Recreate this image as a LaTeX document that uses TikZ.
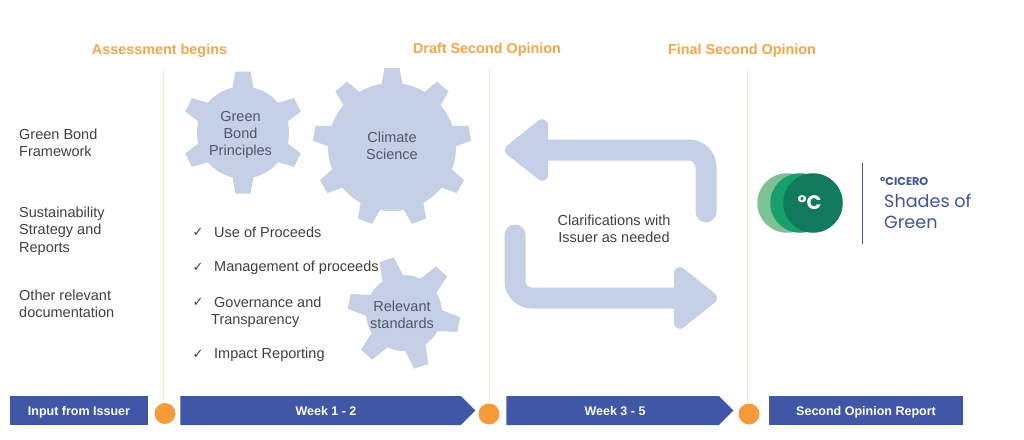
\documentclass[tikz,border=0pt]{standalone}
\usepackage{fontspec}
\setmainfont{Liberation Sans}
\newfontfamily\tickfont{DejaVu Sans}
\newfontfamily\logofont{Poppins}
\usetikzlibrary{arrows.meta,shapes.symbols}

\definecolor{gearblue}{HTML}{C5CFE6}
\definecolor{barblue}{HTML}{3F57A6}
\definecolor{dotorange}{HTML}{F79A3A}
\definecolor{headorange}{HTML}{F5A54A}
\definecolor{bodygray}{HTML}{404040}
\definecolor{geartext}{HTML}{50566A}
\definecolor{guideline}{HTML}{F3E6D2}
\definecolor{logolight}{HTML}{7DC195}
\definecolor{logomid}{HTML}{17A06C}
\definecolor{logodark}{HTML}{127A5C}
\definecolor{logoblue}{HTML}{43549C}

% center x, center y, body radius, tip radius, tooth angles
\newcommand{\gearshape}[5]{
	\fill[gearblue] (#1,#2) circle (#3);
	\foreach \a in {#5}
		\fill[gearblue,shift={(#1,#2)},rotate=\a] (#3-4,-11) -- (#4,-7.5) -- (#4,7.5) -- (#3-4,11) -- cycle;
}

\tikzset{
	headline/.style={text=headorange,font=\fontsize{14.4}{17}\selectfont\bfseries,inner sep=0},
	bodytext/.style={text=bodygray,font=\fontsize{14.5}{17.3}\selectfont,align=left,anchor=west,inner sep=0},
	gearlabel/.style={text=geartext,font=\fontsize{14.5}{17.3}\selectfont,align=center,inner sep=0},
	tick/.style={text=bodygray,font=\fontsize{13}{13}\tickfont,inner sep=0},
	barbox/.style={fill=barblue,text=white,font=\fontsize{12.5}{15}\selectfont\bfseries,minimum height=29pt,inner sep=0,text height=9pt,text depth=0pt},
	barsignal/.style={barbox,shape=signal,signal to=east,signal from=nowhere,signal pointer angle=90},
	dot/.style={circle,fill=dotorange,minimum size=21pt,inner sep=0},
	guide/.style={guideline,line width=0.8pt},
	loopline/.style={gearblue,line width=21pt,rounded corners=17pt,line cap=round,-{Triangle[length=47pt,width=71pt,round]}},
}

\begin{document}
\begin{tikzpicture}[x=1pt,y=-1pt]
	\useasboundingbox (0,0) rectangle (1024,439);

	% timeline
	\node[dot] (dotA) at (165,413.5) {};
	\node[dot] (dotB) at (489,414) {};
	\node[dot] (dotC) at (749,414) {};
	\coordinate (topA) at (163,68);
	\coordinate (topB) at (489,68);
	\coordinate (topC) at (747,68);
	\draw[guide] (topA) -- (topA |- dotA.north);
	\draw[guide] (topB) -- (dotB);
	\draw[guide] (topC) -- (topC |- dotC.north);
	\node[barbox,minimum width=138pt] (input) at (79,410.5) {Input from Issuer};
	\node[barsignal,minimum width=295pt] (weekA) at (320.5,410.5) {\hspace*{11pt}Week 1 - 2};
	\node[barsignal,minimum width=227pt] (weekB) at (612.5,410.5) {\hspace*{5pt}Week 3 - 5};
	\node[barbox,minimum width=194pt] (report) at (866,410.5) {Second Opinion Report};

	\node[headline] (begins) at (159.5,50.5) {Assessment begins};
	\node[headline] (draft) at (487,49.5) {Draft Second Opinion};
	\node[headline] (final) at (742,50.5) {Final Second Opinion};

	% inputs on the left
	\node[bodytext] (framework) at (19,143) {Green Bond\\Framework};
	\node[bodytext] (strategy) at (19,231) {Sustainability\\Strategy and\\Reports};
	\node[bodytext] (other) at (19,304) {Other relevant\\documentation};

	% gears
	\gearshape{243}{132.5}{46}{61}{90,27,-27,-90,-153,153}
	\gearshape{392}{147}{64}{79}{90,50,10,-30,-70,-110,-150,170,130}
	\gearshape{404}{313}{38}{56}{108,48,-12,-72,-132,168}
	\node[gearlabel] (principles) at (240.5,135) {Green\\Bond\\Principles};
	\node[gearlabel] (science) at (392,146) {Climate\\Science};
	\node[gearlabel] (standards) at (402,315) {Relevant\\standards};

	% checklist
	\node[tick] (tickA) at (198,232) {✓};
	\node[tick] (tickB) at (198,267) {✓};
	\node[tick] (tickC) at (198,302) {✓};
	\node[tick] (tickD) at (198,354) {✓};
	\node[bodytext] (proceeds) at (214,232.5) {Use of Proceeds};
	\node[bodytext] (management) at (214,268) {Management of proceeds};
	\node[bodytext] (governance) at (211,312.5) {\hspace*{3pt}Governance and\\Transparency};
	\node[bodytext] (impact) at (214,355) {Impact Reporting};

	% clarification loop
	\coordinate (loopA) at (706,212);
	\coordinate (loopB) at (706,150);
	\coordinate (loopC) at (505,150);
	\coordinate (loopD) at (515,235);
	\coordinate (loopE) at (515,298);
	\coordinate (loopF) at (717,298);
	\draw[loopline] (loopA) -- (loopB) -- (loopC);
	\draw[loopline] (loopD) -- (loopE) -- (loopF);
	\node[gearlabel,text=bodygray] (clarify) at (614,228.5) {Clarifications with\\Issuer as needed};

	% logo
	\node[circle,fill=logolight,minimum size=59.5pt,inner sep=0] (logoA) at (787,203) {};
	\node[circle,fill=logomid,minimum size=59.5pt,inner sep=0] (logoB) at (800,203) {};
	\node[circle,fill=logodark,minimum size=59.5pt,inner sep=0,text=white,font=\logofont\fontsize{19.5}{20}\selectfont\bfseries] (logoC) at (813,203) {°C\hspace*{7pt}};
	\coordinate (ruleA) at (862,163);
	\coordinate (ruleB) at (862,244);
	\draw[logoblue,line width=1pt] (ruleA) -- (ruleB);
	\node[anchor=west,inner sep=0,text=logoblue,font=\logofont\fontsize{11.3}{12}\selectfont\bfseries] (cicero) at (880,182) {°CICERO};
	\node[anchor=west,inner sep=0,text=logoblue,align=left,font=\logofont\fontsize{17.6}{21}\selectfont] (shades) at (884,211) {Shades of\\Green};
\end{tikzpicture}
\end{document}
